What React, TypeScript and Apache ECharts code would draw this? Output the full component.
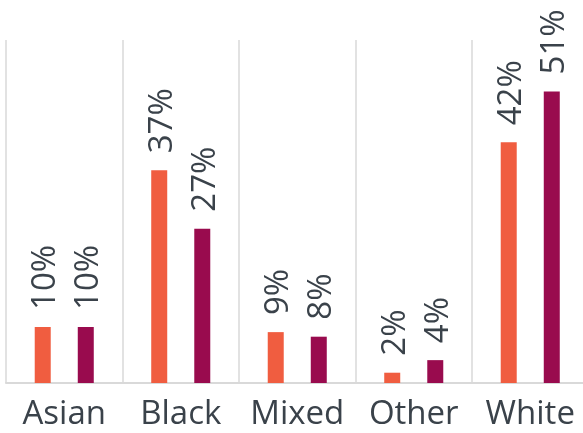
import React, { useEffect, useRef } from "react";
import * as echarts from "echarts";

const categories = ["Asian", "Black", "Mixed", "Other", "White"];
const seriesA = [9.8, 37.2, 8.9, 1.8, 42.1];
const seriesB = [9.8, 27.0, 8.1, 4.0, 51.0];
const labelsA = ["10%", "37%", "9%", "2%", "42%"];
const labelsB = ["10%", "27%", "8%", "4%", "51%"];

export default function App() {
  const ref = useRef<HTMLDivElement>(null);
  useEffect(() => {
    const chart = echarts.init(ref.current!, undefined, { renderer: "svg" });
    const font = "Open Sans";
    const textColor = "#3A424A";
    const mkLabel = (labels: string[]) => ({
      show: true,
      position: "top",
      rotate: 90,
      align: "left",
      verticalAlign: "middle",
      distance: 17,
      fontFamily: font,
      fontSize: 33,
      color: textColor,
      formatter: (p: any) => labels[p.dataIndex],
    });
    chart.setOption({
      animation: false,
      grid: {
        left: 6,
        width: 582.5,
        top: 40,
        height: 343,
        containLabel: false,
        outerBoundsMode: "none",
      },
      xAxis: {
        type: "category",
        data: categories,
        axisTick: { show: false },
        axisLine: { show: true, lineStyle: { color: "#D9D9D9", width: 2 } },
        splitLine: { show: true, interval: 0, lineStyle: { color: "#D9D9D9", width: 1.5 } },
        axisLabel: {
          interval: 0,
          hideOverlap: false,
          fontFamily: font,
          fontSize: 33,
          color: textColor,
          margin: 12,
        },
      },
      yAxis: {
        type: "value",
        min: 0,
        max: 60,
        show: false,
        splitLine: { show: false },
      },
      series: [
        {
          type: "bar",
          data: seriesA,
          barWidth: 16,
          barGap: "169%",
          itemStyle: { color: "#F05D40" },
          label: mkLabel(labelsA),
        },
        {
          type: "bar",
          data: seriesB,
          barWidth: 16,
          barGap: "169%",
          itemStyle: { color: "#990B4E" },
          label: mkLabel(labelsB),
        },
      ],
    });
    return () => chart.dispose();
  }, []);
  return (
    <div
      ref={ref}
      style={{ position: "fixed", left: 0, top: 0, width: 583, height: 433 }}
    />
  );
}
